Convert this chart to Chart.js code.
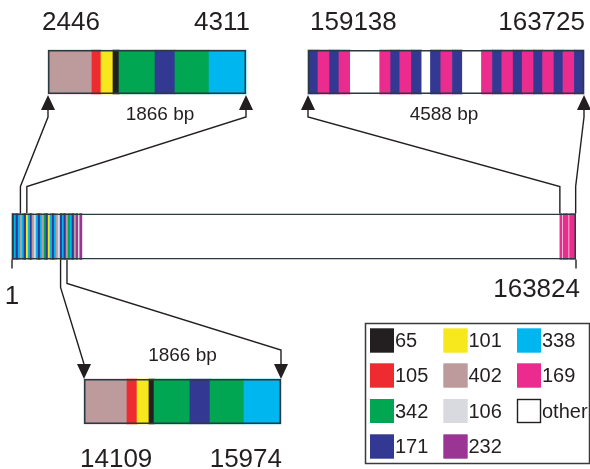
<!DOCTYPE html>
<html>
<head>
<meta charset="utf-8">
<script src="https://cdn.jsdelivr.net/npm/chart.js@4/dist/chart.umd.min.js"></script>
<style>
  html, body { margin: 0; padding: 0; background: #ffffff; }
  #wrap { width: 590px; height: 469px; }
</style>
</head>
<body>
<div id="wrap"><canvas id="map" width="590" height="469"></canvas></div>
<script>
// ---- genome coordinates ----
const genomeRange = [1, 163824];
const leftZoomRange = [2446, 4311];
const rightZoomRange = [159138, 163725];
const lowerZoomRange = [14109, 15974];

// repeat blocks at the start of the genome (start positions, block type)
const mainLeftStarts = [1, 600, 1150, 1800, 2450, 3000, 3500, 4150, 4700, 5300,
  5800, 6450, 7000, 7600, 8200, 8700, 9350, 9900, 10500, 11050,
  11700, 12250, 12800, 13400, 14000, 14600, 15100, 15700, 16300, 16900,
  17450, 18050, 18650, 19250, 19700];
const mainLeftTypes = ['171', '338', '171', '338', '402', '338', '171', '101', '338', '171',
  '402', '106', '338', '171', '338', '402', '342', '171', '101', '338',
  '171', '338', '402', '106', '171', '338', '171', '402', '342', '338',
  '171', '402', '232', '106', '232'];
const mainLeftEnd = 20300;

// repeat blocks at the end of the genome
const mainRightStarts = [159138, 159950, 160150, 161750, 161950];
const mainRightTypes = ['169', 'other', '169', 'other', '169'];

// 2446-4311 region
const leftZoomStarts = [2446, 2860, 2945, 3058, 3115, 3454, 3642, 3963];
const leftZoomTypes = ['402', '105', '101', '65', '342', '171', '342', '338'];

// 159138-163725 region
const rightZoomStarts = [159138, 159304, 159498, 159653, 159842, 160330, 160513, 160663,
  160857, 161029, 161173, 161345, 161539, 161705, 162021, 162204,
  162359, 162548, 162698, 162887, 163037, 163226, 163376, 163565];
const rightZoomTypes = ['171', '169', '171', '169', 'other', '169', '171', '169',
  '171', 'other', '171', '169', '171', 'other', '169', '171',
  '169', '171', '169', '171', '169', '171', '169', '171'];

// 14109-15974 region
const lowerZoomStarts = [14109, 14516, 14611, 14724, 14772, 15112, 15302, 15624];
const lowerZoomTypes = ['402', '105', '101', '65', '342', '171', '342', '338'];

// legend, column by column
const legendColumns = [
  ['65', '105', '342', '171'],
  ['101', '402', '106', '232'],
  ['338', '169', 'other']
];

// ---- styles ----
const typeColors = {
  '65': '#231f20', '101': '#f7e81e', '338': '#00b6ef', '105': '#ee2b2f',
  '402': '#bd9b9c', '169': '#ec2b8e', '342': '#00a651', '106': '#d9dae0',
  '171': '#333893', '232': '#9b3594', 'other': '#ffffff'
};
const INK = '#231f20';
const FRAME = '#2b3940';
const FONT = '"Liberation Sans", Arial, Helvetica, sans-serif';

// ---- layout (canvas pixels) ----
const W = 590, H = 469;
const ROW = { top: 72, main: 236.5, lower: 401.5 };
const THICK = { top: 44, main: 46, lower: 45 };

// linear scale whose [lo, hi] lands on [pxLo, pxHi] of the full-width chart area
function spanScale(range, pxLo, pxHi) {
  const k = (range[1] - range[0]) / (pxHi - pxLo);
  return {
    type: 'linear', axis: 'x', position: 'bottom', display: false, offset: false,
    min: range[0] - pxLo * k, max: range[1] + (W - pxHi) * k
  };
}

function blocks(starts, types, end, row) {
  return starts.map((s, i) => ({ x: [s, i + 1 < starts.length ? starts[i + 1] : end], y: row, t: types[i] }));
}

function blockSet(starts, types, end, row, axis, thick) {
  return {
    data: blocks(starts, types, end, row),
    backgroundColor: types.map(t => typeColors[t]),
    borderWidth: 0,
    xAxisID: axis, yAxisID: 'y',
    barThickness: thick, grouped: false, order: 2
  };
}

function frameSet(range, row, axis, thick, fill) {
  return {
    data: [{ x: [range[0], range[1]], y: row }],
    backgroundColor: fill || 'rgba(0,0,0,0)',
    borderColor: fill ? 'rgba(0,0,0,0)' : FRAME,
    borderWidth: fill ? 0 : 1.5,
    borderSkipped: false,
    inflateAmount: 0,
    xAxisID: axis, yAxisID: 'y',
    barThickness: thick, grouped: false, order: fill ? 3 : 1
  };
}

const datasets = [
  frameSet(genomeRange, ROW.main, 'xMain', THICK.main, '#ffffff'),
  blockSet(mainLeftStarts, mainLeftTypes, mainLeftEnd, ROW.main, 'xMain', THICK.main),
  blockSet(mainRightStarts, mainRightTypes, rightZoomRange[1], ROW.main, 'xMain', THICK.main),
  blockSet(leftZoomStarts, leftZoomTypes, leftZoomRange[1], ROW.top, 'xTL', THICK.top),
  blockSet(rightZoomStarts, rightZoomTypes, rightZoomRange[1], ROW.top, 'xTR', THICK.top),
  blockSet(lowerZoomStarts, lowerZoomTypes, lowerZoomRange[1], ROW.lower, 'xLow', THICK.lower),
  frameSet(genomeRange, ROW.main, 'xMain', THICK.main),
  frameSet(leftZoomRange, ROW.top, 'xTL', THICK.top),
  frameSet(rightZoomRange, ROW.top, 'xTR', THICK.top),
  frameSet(lowerZoomRange, ROW.lower, 'xLow', THICK.lower)
];

// connector lines, arrowheads, coordinate labels and the legend
const overlay = {
  id: 'overlay',
  afterDatasetsDraw(chart) {
    const { ctx, scales: s } = chart;
    const yOf = v => s.y.getPixelForValue(v);
    const topBottom = yOf(ROW.top) + THICK.top / 2;
    const mainTop = yOf(ROW.main) - THICK.main / 2;
    const mainBottom = yOf(ROW.main) + THICK.main / 2;
    const lowerTop = yOf(ROW.lower) - THICK.lower / 2;
    const xm = v => s.xMain.getPixelForValue(v);

    ctx.save();
    ctx.strokeStyle = INK;
    ctx.fillStyle = INK;
    ctx.lineWidth = 1.4;
    ctx.lineJoin = 'miter';

    const path = pts => {
      ctx.beginPath();
      pts.forEach(([x, y], i) => (i ? ctx.lineTo(x, y) : ctx.moveTo(x, y)));
      ctx.stroke();
    };
    const arrow = (x, tip, dir) => {
      ctx.beginPath();
      ctx.moveTo(x, tip);
      ctx.lineTo(x - 7, tip - dir * 15);
      ctx.lineTo(x + 7, tip - dir * 15);
      ctx.closePath();
      ctx.fill();
    };

    // upper zoom panels -> genome bar
    [['xTL', leftZoomRange[0]], ['xTL', leftZoomRange[1]],
     ['xTR', rightZoomRange[0]], ['xTR', rightZoomRange[1]]].forEach(([id, v]) => {
      const xb = s[id].getPixelForValue(v);
      arrow(xb, topBottom + 1, -1);
      path([[xb, topBottom + 15], [xb, topBottom + 23], [xm(v), mainTop - 27], [xm(v), mainTop]]);
    });

    // genome bar -> lower zoom panel
    const lo0 = s.xLow.getPixelForValue(lowerZoomRange[0]);
    const lo1 = s.xLow.getPixelForValue(lowerZoomRange[1]);
    path([[xm(lowerZoomRange[0]), mainBottom], [xm(lowerZoomRange[0]), mainBottom + 28], [lo0, lowerTop - 15]]);
    path([[xm(lowerZoomRange[1]), mainBottom], [xm(lowerZoomRange[1]), mainBottom + 24], [lo1, lowerTop - 29], [lo1, lowerTop - 15]]);
    arrow(lo0, lowerTop, 1);
    arrow(lo1, lowerTop, 1);

    // end ticks under the genome bar
    path([[xm(genomeRange[0]), mainBottom], [xm(genomeRange[0]), mainBottom + 9]]);
    path([[xm(genomeRange[1]), mainBottom], [xm(genomeRange[1]), mainBottom + 9]]);

    // coordinates
    const text = (str, x, y, align, size) => {
      ctx.font = size + 'px ' + FONT;
      ctx.textAlign = align;
      ctx.textBaseline = 'alphabetic';
      ctx.fillText(str, x, y);
    };
    const xTL = v => s.xTL.getPixelForValue(v);
    const xTR = v => s.xTR.getPixelForValue(v);
    const xLo = v => s.xLow.getPixelForValue(v);
    const len = r => (r[1] - r[0] + 1) + ' bp';

    text(String(leftZoomRange[0]), xTL(leftZoomRange[0]) - 6, 30, 'left', 26);
    text(String(leftZoomRange[1]), xTL(leftZoomRange[1]) + 4, 30, 'right', 26);
    text(String(rightZoomRange[0]), xTR(rightZoomRange[0]) + 2, 30, 'left', 26);
    text(String(rightZoomRange[1]), xTR(rightZoomRange[1]) + 1, 30, 'right', 26);
    text(String(genomeRange[0]), xm(genomeRange[0]), 304, 'center', 26);
    text(String(genomeRange[1]), xm(genomeRange[1]) + 4, 297, 'right', 26);
    text(String(lowerZoomRange[0]), xLo(lowerZoomRange[0]) - 4, 467, 'left', 26);
    text(String(lowerZoomRange[1]), xLo(lowerZoomRange[1]) + 1, 467, 'right', 26);

    text(len(leftZoomRange), (xTL(leftZoomRange[0]) + xTL(leftZoomRange[1])) / 2 + 13, 120, 'center', 19);
    text(len(rightZoomRange), (xTR(rightZoomRange[0]) + xTR(rightZoomRange[1])) / 2 - 2, 120, 'center', 19);
    text(len(lowerZoomRange), (xLo(lowerZoomRange[0]) + xLo(lowerZoomRange[1])) / 2, 361, 'center', 19);

    // legend
    ctx.lineWidth = 1.5;
    ctx.strokeStyle = '#3a3a3a';
    ctx.strokeRect(365.5, 323.5, 224, 140);
    const colX = [370, 443.5, 517];
    const rowY = [328.5, 363.5, 399, 434.5];
    legendColumns.forEach((col, c) => {
      col.forEach((t, r) => {
        const x = colX[c], y = rowY[r];
        ctx.fillStyle = typeColors[t];
        ctx.fillRect(x, y, 24, 24);
        ctx.lineWidth = t === 'other' ? 1.4 : 0.8;
        ctx.strokeStyle = t === 'other' ? INK : typeColors[t];
        ctx.strokeRect(x + 0.5, y + 0.5, 23, 23);
        ctx.fillStyle = INK;
        ctx.font = '20px ' + FONT;
        ctx.textAlign = 'left';
        ctx.textBaseline = 'middle';
        ctx.fillText(t, x + 25, y + 13);
      });
    });
    ctx.restore();
  }
};

new Chart(document.getElementById('map'), {
  type: 'bar',
  data: { datasets },
  options: {
    indexAxis: 'y',
    responsive: false,
    devicePixelRatio: 1,
    animation: false,
    events: [],
    layout: { padding: 0 },
    datasets: { bar: { grouped: false } },
    scales: {
      y: { type: 'linear', display: false, offset: false, min: 0, max: H, reverse: true },
      xMain: spanScale(genomeRange, 12, 576),
      xTL: spanScale(leftZoomRange, 48, 246),
      xTR: spanScale(rightZoomRange, 308, 584),
      xLow: spanScale(lowerZoomRange, 84, 281)
    },
    plugins: { legend: { display: false }, tooltip: { enabled: false } }
  },
  plugins: [overlay]
});
</script>
</body>
</html>
